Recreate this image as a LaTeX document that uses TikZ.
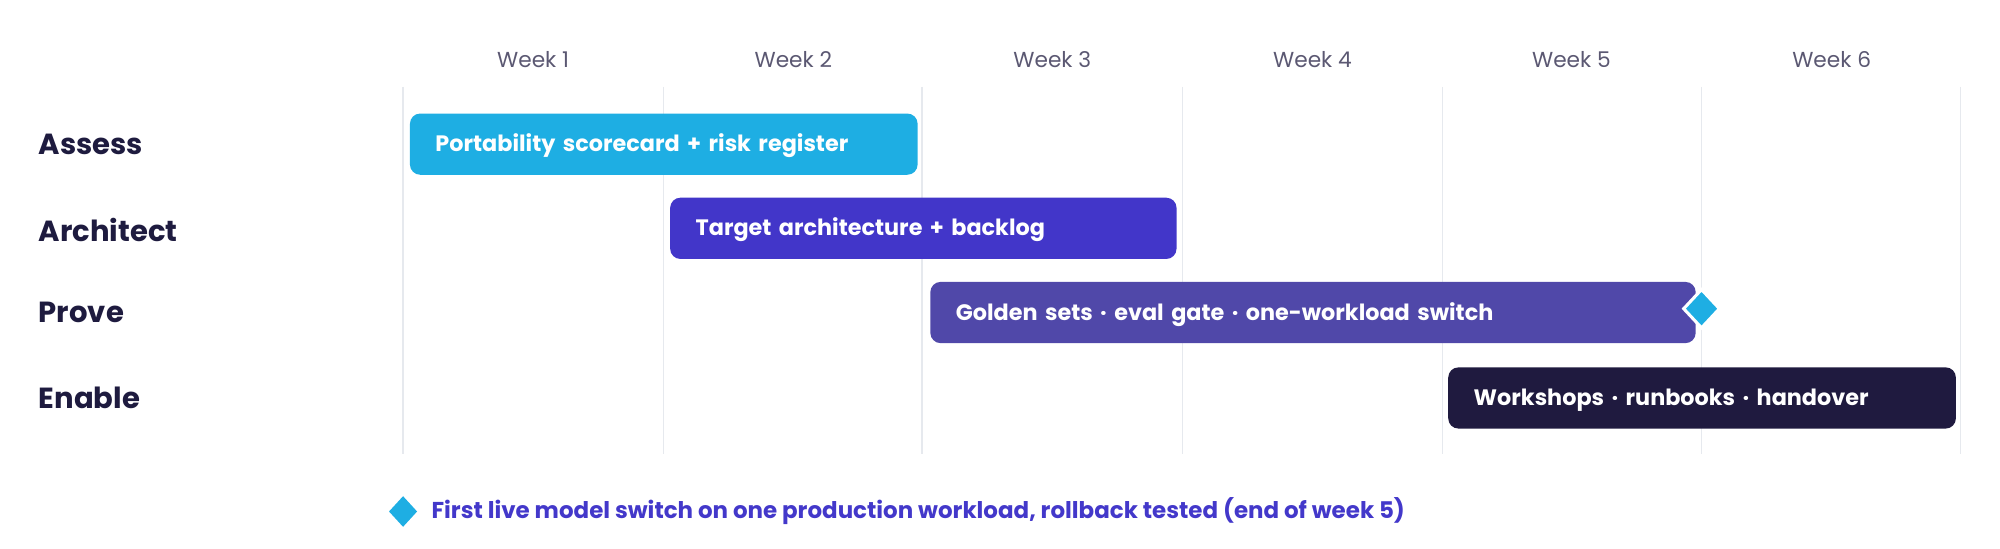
\documentclass[tikz,border=0pt]{standalone}
\usepackage{fontspec}
\setmainfont{Poppins}
\definecolor{gridc}{HTML}{E6E9EE}
\definecolor{weekc}{HTML}{5B5872}
\definecolor{rowc}{HTML}{1E1B3F}
\definecolor{c1}{HTML}{1EAEE3}
\definecolor{c2}{HTML}{4236C9}
\definecolor{c3}{HTML}{5048A9}
\definecolor{c4}{HTML}{1F1A3F}
\definecolor{legc}{HTML}{4338CA}
\begin{document}
\begin{tikzpicture}[x=0.5pt,y=-0.5pt,
  week/.style={font=\fontsize{8.5}{10}\selectfont, text=weekc, anchor=center, inner sep=0},
  rowlab/.style={font=\bfseries\fontsize{11.4}{13}\selectfont, text=rowc, anchor=west, inner sep=0},
  bar/.style={rounded corners=4pt, anchor=west, minimum height=24pt, inner xsep=10pt, inner ysep=0,
     text height=8pt, text depth=2pt,
     font=\bfseries\fontsize{8.75}{10}\selectfont, text=white, align=left},
  gline/.style={draw=gridc, line width=0.6pt},
  mstone/.style={fill=c1, draw=white, line width=1.2pt}
]
\useasboundingbox (0,0) rectangle (1568,430.4);
% grid lines
\foreach \i/\x in {0/316,1/520,2/723,3/927,4/1131,5/1334,6/1537} {
  \coordinate (gt\i) at (\x,68);
  \coordinate (gb\i) at (\x,356);
  \draw[gline] (gt\i) -- (gb\i);
}
% week labels
\foreach \i/\x in {1/418,2/622,3/825,4/1029,5/1232,6/1436} {
  \node[week] (w\i) at (\x,47) {Week \i};
}
% row labels
\node[rowlab] (rA) at (30,113) {Assess};
\node[rowlab] (rB) at (30,180) {Architect};
\node[rowlab] (rC) at (30,245) {Prove};
\node[rowlab] (rD) at (30,312) {Enable};
% bars
\node[bar, fill=c1, text width=199pt-20pt] (bA) at (321,113) {Portability scorecard + risk register};
\node[bar, fill=c2, text width=198.5pt-20pt] (bB) at (525,179) {Target architecture + backlog};
\node[bar, fill=c3, text width=300pt-20pt] (bC) at (729,245) {Golden sets · eval gate · one-workload switch};
\node[bar, fill=c4, text width=199pt-20pt] (bD) at (1135,312) {Workshops · runbooks · handover};
% milestone
\node[inner sep=0] (ms) at (1334,242) {};
\draw[mstone] (1334,227) -- (1348,242) -- (1334,257) -- (1320,242) -- cycle;
% legend
\node[inner sep=0] (lm) at (316,401) {};
\fill[c1] (316,389) -- (327,401) -- (316,413) -- (305,401) -- cycle;
\node[anchor=west, inner sep=0, font=\bfseries\fontsize{9}{11}\selectfont, text=legc] (lt) at (338,401) {First live model switch on one production workload, rollback tested (end of week 5)};
\end{tikzpicture}
\end{document}
